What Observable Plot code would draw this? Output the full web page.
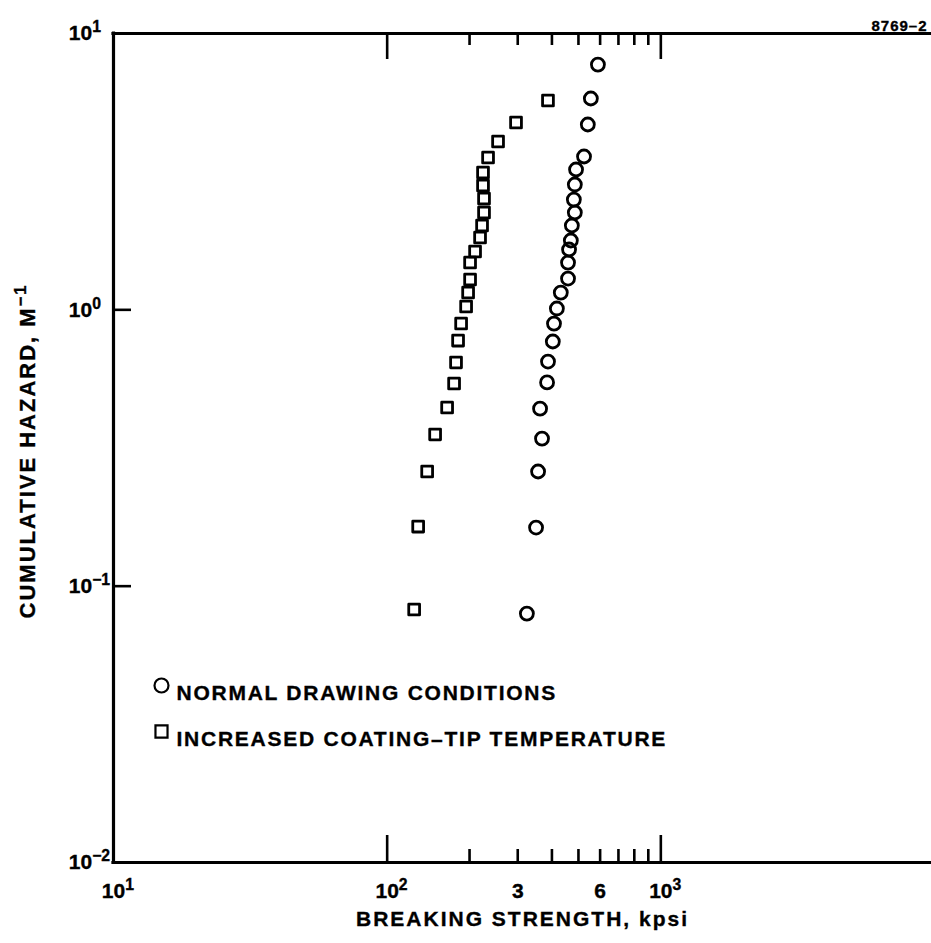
<!DOCTYPE html>
<html><head><meta charset="utf-8">
<script src="https://cdn.jsdelivr.net/npm/d3@7"></script>
<script src="https://cdn.jsdelivr.net/npm/@observablehq/plot@0.6"></script>
<style>
html,body{margin:0;padding:0;background:#fff;}
#chart svg{display:block;}
</style></head>
<body><div id="chart"></div>
<script>
// ---- data ----
const normalStrength = [324, 350, 356, 368, 362, 384, 387, 403, 407, 417, 431, 458, 458, 462, 469, 473, 485, 481, 485, 490, 524, 541, 555, 589];
const normalHazard   = [0.0796, 0.163, 0.260, 0.342, 0.439, 0.546, 0.650, 0.768, 0.892, 1.011, 1.155, 1.298, 1.483, 1.653, 1.782, 2.019, 2.250, 2.506, 2.841, 3.220, 3.588, 4.685, 5.818, 7.72];
const hotStrength = [125.5, 129.8, 140.0, 149.7, 165.6, 175.6, 178.5, 181.6, 186.3, 194.3, 197.6, 200.9, 200.9, 209.5, 218.5, 222.2, 225.9, 225.9, 224.0, 224.0, 233.7, 254.2, 295.7, 386.9];
const hotHazard   = [0.0823, 0.1643, 0.260, 0.354, 0.443, 0.541, 0.645, 0.774, 0.892, 1.028, 1.155, 1.287, 1.483, 1.626, 1.827, 2.019, 2.250, 2.527, 2.818, 3.140, 3.557, 4.065, 4.763, 5.721];

const xMajorTicks = [100, 1000];
const xMinorTicks = [200, 300, 400, 500, 600, 700, 800, 900];
const xTickValues = [10, 100, 300, 600, 1000];
const xTickLabels = ["10^1", "10^2", "3", "6", "10^3"];
const yMajorTicks = [1, 0.1];
const yTickValues = [10, 1, 0.1, 0.01];
const yTickLabels = ["10^1", "10^0", "10^\u22121", "10^\u22122"];
const legendLabels = ["NORMAL DRAWING CONDITIONS", "INCREASED COATING\u2013TIP TEMPERATURE"];
const xTitle = "BREAKING STRENGTH, kpsi";
const yTitle = "CUMULATIVE HAZARD, M^\u22121";
const figureId = "8769\u20132";

// ---- layout ----
const FONT = "'Liberation Sans', Arial, Helvetica, sans-serif";
const W = 931, H = 943, ML = 113, MT = 33, MB = 81;
const FH = H - MT - MB;
const FW = W - ML;

const normal = normalStrength.map((x, i) => ({x, y: normalHazard[i]}));
const hot = hotStrength.map((x, i) => ({x, y: hotHazard[i]}));

const ink = {stroke: "black"};

const svg = Plot.plot({
  width: W, height: H,
  marginLeft: ML, marginTop: MT, marginBottom: MB, marginRight: 0,
  x: {type: "log", domain: [10, 10000], range: [ML, 934], axis: null},
  y: {type: "log", domain: [0.01, 10], axis: null},
  style: {fontFamily: FONT, fontWeight: "bold", background: "white", color: "black"},
  marks: [
    // frame (top, bottom, left)
    Plot.ruleY([10], {...ink, strokeWidth: 3.2, strokeLinecap: "square"}),
    Plot.ruleY([0.01], {...ink, strokeWidth: 3.2, strokeLinecap: "square"}),
    Plot.ruleX([10], {...ink, strokeWidth: 3.2, strokeLinecap: "square"}),
    // inward ticks
    Plot.tickX(xMajorTicks, {x: d => d, insetTop: FH - 27, ...ink, strokeWidth: 2.6}),
    Plot.tickX(xMinorTicks, {x: d => d, insetTop: FH - 13, ...ink, strokeWidth: 2.6}),
    Plot.tickX(xMajorTicks, {x: d => d, insetBottom: FH - 26, ...ink, strokeWidth: 2.6}),
    Plot.tickX(xMinorTicks, {x: d => d, insetBottom: FH - 12, ...ink, strokeWidth: 2.6}),
    Plot.tickY(yMajorTicks, {y: d => d, insetRight: FW - 18, ...ink, strokeWidth: 2.6}),
    // tick labels
    Plot.text(xTickValues, {x: d => d, text: (d, i) => xTickLabels[i], frameAnchor: "bottom", dy: 35, textAnchor: "middle", fontSize: 21}),
    Plot.text(yTickValues, {y: d => d, text: (d, i) => yTickLabels[i], frameAnchor: "left", dx: -33, dy: 0, textAnchor: "middle", fontSize: 21}),
    // axis titles
    Plot.text([xTitle], {text: d => d, frameAnchor: "bottom", dy: 63, textAnchor: "middle", fontSize: 21}),
    Plot.text([yTitle], {text: d => d, frameAnchor: "left", dx: -86, dy: 3, rotate: -90, textAnchor: "middle", fontSize: 22}),
    Plot.text([figureId], {text: d => d, frameAnchor: "top-right", dx: -60, dy: -13, textAnchor: "start", fontSize: 15}),
    // data
    Plot.dot(normal, {x: "x", y: "y", r: 6.5, symbol: "circle", fill: "none", ...ink, strokeWidth: 2.8}),
    Plot.dot(hot, {x: "x", y: "y", r: 6.1, symbol: "square", fill: "none", ...ink, strokeWidth: 2.8, strokeLinejoin: "round"}),
    // legend
    Plot.dot([0], {frameAnchor: "top-left", dx: 48, dy: 652, r: 7, symbol: "circle", fill: "none", ...ink, strokeWidth: 2.2}),
    Plot.dot([0], {frameAnchor: "top-left", dx: 48, dy: 698, r: 6.8, symbol: "square", fill: "none", ...ink, strokeWidth: 2.2}),
    Plot.text([legendLabels[0]], {text: d => d, frameAnchor: "top-left", dx: 63, dy: 652, textAnchor: "start", fontSize: 21}),
    Plot.text([legendLabels[1]], {text: d => d, frameAnchor: "top-left", dx: 63, dy: 698, textAnchor: "start", fontSize: 21})
  ]
});

document.getElementById("chart").appendChild(svg);

// letter spacing and a slightly heavier weight for the lettering
d3.select(svg).selectAll("text").each(function() {
  const t = this.textContent;
  if (t === xTitle || t === yTitle) this.setAttribute("letter-spacing", "2");
  else if (legendLabels.includes(t)) this.setAttribute("letter-spacing", "1.75");
  else if (t === figureId) this.setAttribute("letter-spacing", "1");
  this.setAttribute("stroke", "black");
  this.setAttribute("stroke-width", "0.35");
});

// superscripts: "base^exp" -> base + raised smaller tspan
d3.select(svg).selectAll("text").each(function() {
  const t = this.textContent;
  if (!t.includes("^")) return;
  const [base, exp] = t.split("^");
  const anchor = getComputedStyle(this).textAnchor;
  const tr = this.getAttribute("transform") || "";
  const rotated = tr.includes("rotate");
  const m = tr.match(/translate\(([-\d.]+)/);
  const tx = m ? +m[1] : +(this.getAttribute("x") || 0);
  this.textContent = "";
  const b = d3.select(this).append("tspan").text(base);
  const s = d3.select(this).append("tspan").attr("dy", "-0.5em").attr("font-size", "0.75em").text(exp);
  // x-axis labels: keep the base "10" centred on its tick
  if (anchor === "middle" && !rotated && tx >= ML - 5) {
    const w = s.node().getComputedTextLength();
    b.attr("dx", w / 2);
  }
});
</script>
</body></html>
